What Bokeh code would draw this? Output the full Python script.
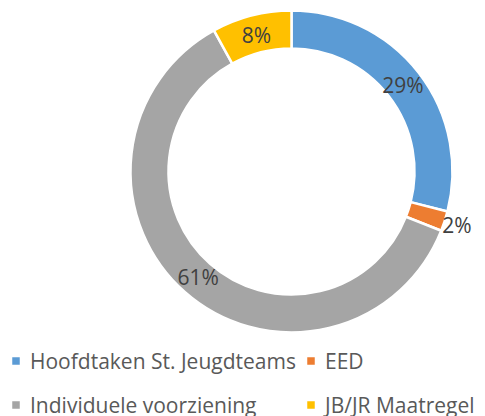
import math
from bokeh.plotting import figure
from bokeh.models import Range1d, ColumnDataSource
from bokeh.core.properties import value
from bokeh.embed import file_html
from bokeh.resources import INLINE

categories = ["Hoofdtaken St. Jeugdteams", "EED", "Individuele voorziening", "JB/JR Maatregel"]
values = [29, 2, 61, 8]
colors = ["#5B9BD5", "#ED7D31", "#A5A5A5", "#FFC000"]

W, H = 485, 416
p = figure(width=W, height=H, output_backend="svg", toolbar_location=None,
           x_range=Range1d(0, W), y_range=Range1d(0, H), min_border=0)
p.axis.visible = False
p.grid.visible = False
p.outline_line_color = None

cx, cy = 291, 245
r_out, r_in = 161, 123
total = sum(values)
starts, ends, lx, ly, labels = [], [], [], [], []
cum = 0
for i, v in enumerate(values):
    a0 = math.pi / 2 - 2 * math.pi * (cum + v) / total
    a1 = math.pi / 2 - 2 * math.pi * cum / total
    starts.append(a0)
    ends.append(a1)
    mid = (a0 + a1) / 2
    r_lab = (r_out + r_in) / 2 - 1 if v >= 5 else r_out + 13
    lx.append(cx + r_lab * math.cos(mid))
    ly.append(cy + r_lab * math.sin(mid))
    labels.append(f"{round(100 * v / total)}%")
    cum += v

src = ColumnDataSource(dict(start=starts, end=ends, color=colors, lx=lx, ly=ly, label=labels))
p.annular_wedge(x=cx, y=cy, inner_radius=r_in, outer_radius=r_out,
                start_angle="start", end_angle="end", fill_color="color",
                line_color="white", line_width=2.5, source=src)
p.text(x="lx", y="ly", text="label", source=src, text_align="center",
       text_baseline="middle", text_font=value("Open Sans"),
       text_font_size="21px", text_color="#404040")

# legend (manual, 2x2 grid)
leg_x = [15.5, 310.5, 15.5, 310.5]
leg_y = [55.5, 55.5, 11.5, 11.5]
leg = ColumnDataSource(dict(x=leg_x, y=leg_y, tx=[v + 14 for v in leg_x],
                            color=colors, label=categories))
p.rect(x="x", y="y", width=7.5, height=7.5, fill_color="color", line_color=None, source=leg)
p.text(x="tx", y="y", text="label", source=leg, text_align="left",
       text_baseline="middle", text_font=value("Open Sans"),
       text_font_size="21px", text_color="#595959")

open("out.html", "w").write(file_html(p, INLINE))
